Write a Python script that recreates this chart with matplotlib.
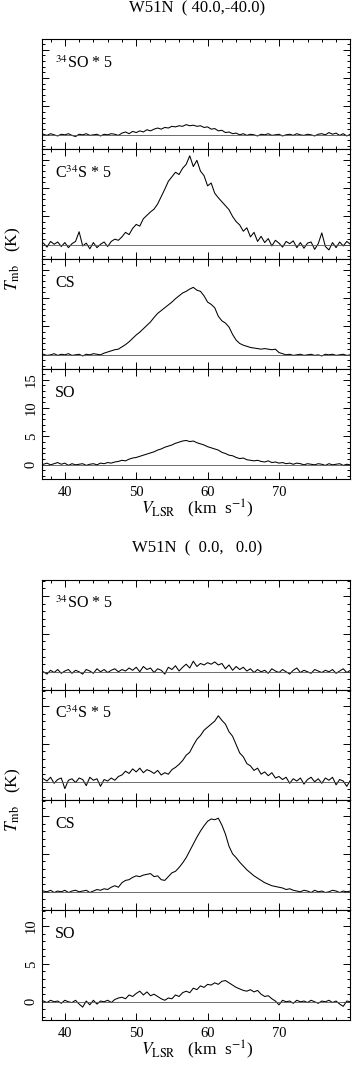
import numpy as np
import matplotlib
matplotlib.use('Agg')
import matplotlib.pyplot as plt
from matplotlib.ticker import MultipleLocator

plt.rcParams['font.family'] = ['Liberation Serif', 'DejaVu Serif']
plt.rcParams['mathtext.fontset'] = 'stix'

# channel velocities (km/s), 0.5 km/s steps
vel = np.arange(37.0, 80.01, 0.5)

# ---- W51N ( 40.0,-40.0) ----
so34_a = [0.1, -0.1, 0.2, 0.0, -0.2, 0.1, 0.0, 0.2, -0.1, -0.3,
          0.1, 0.0, 0.2, -0.1, 0.0, 0.1, -0.2, 0.1, 0.0, 0.2,
          0.1, -0.1, 0.3, 0.5, 0.2, 0.6, 0.4, 0.7, 0.5, 0.9,
          0.7, 1.0, 1.2, 1.0, 1.3, 1.2, 1.5, 1.4, 1.6, 1.5,
          1.8, 1.6, 1.7, 1.5, 1.6, 1.3, 1.4, 1.0, 1.1, 0.7,
          0.8, 0.4, 0.5, 0.2, 0.3, 0.0, 0.2, -0.1, 0.1, 0.0,
          -0.2, 0.1, 0.0, 0.2, -0.1, 0.0, 0.1, -0.2, 0.0, 0.1,
          -0.1, 0.2, 0.0, -0.1, 0.1, 0.0, -0.2, 0.1, 0.2, 0.0,
          0.4, 0.1, 0.3, -0.1, 0.2, -0.2, 0.1]
c34s_a = [0.3, -0.4, 0.6, 0.1, 0.5, -0.3, 0.4, -0.5, 0.2, 0.6,
          2.3, -0.2, 0.3, -0.7, 0.4, -0.5, 0.1, 0.5, -0.3, 0.6,
          1.0, 0.8, 1.4, 2.2, 1.8, 2.9, 3.6, 3.3, 4.6, 5.2,
          5.8, 6.3, 7.2, 8.5, 9.8, 11.2, 12.0, 12.8, 12.4, 13.5,
          14.2, 15.7, 13.8, 14.9, 13.0, 12.2, 10.4, 10.9, 9.1, 8.3,
          7.6, 6.9, 6.2, 5.0, 4.1, 3.5, 2.4, 3.0, 1.4, 2.2,
          0.6, 1.5, 0.4, 1.1, -0.2, 0.8, 0.3, -0.4, 0.6, 0.2,
          0.7, -0.5, 0.4, -0.6, 0.3, 0.5, -0.8, 0.2, 2.1, -0.3,
          -0.9, 0.4, -0.5, 0.5, -0.2, 0.6, 0.1]
cs_a = [0.1, -0.1, 0.0, 0.2, -0.1, 0.1, 0.0, 0.2, -0.1, 0.0,
        0.1, -0.2, 0.1, 0.0, 0.2, 0.1, 0.0, 0.3, 0.5, 0.7,
        0.9, 1.0, 1.4, 1.8, 2.3, 2.9, 3.5, 4.0, 4.6, 5.2,
        5.8, 6.6, 7.3, 7.8, 8.3, 8.8, 9.3, 9.9, 10.4, 10.9,
        11.2, 11.6, 11.9, 11.4, 11.2, 10.4, 9.3, 8.9, 8.3, 6.8,
        6.0, 5.6, 4.9, 3.6, 2.6, 2.0, 1.7, 1.5, 1.3, 1.2,
        1.1, 1.0, 1.1, 1.0, 0.9, 1.0, 0.4, 0.2, 0.0, 0.1,
        -0.1, 0.0, 0.1, -0.1, 0.0, 0.1, -0.1, 0.0, -0.2, 0.1,
        0.0, 0.1, -0.1, 0.0, 0.1, -0.1, 0.0]
so_a = [0.1, 0.3, 0.0, 0.2, 0.4, 0.1, 0.3, -0.1, 0.2, 0.0,
        0.1, 0.2, -0.1, 0.1, 0.2, 0.0, 0.3, 0.2, 0.4, 0.3,
        0.5, 0.6, 0.8, 0.7, 1.0, 1.2, 1.3, 1.5, 1.7, 1.9,
        2.1, 2.3, 2.6, 2.8, 3.1, 3.3, 3.5, 3.8, 4.0, 4.2,
        4.3, 4.1, 4.2, 3.9, 3.7, 3.5, 3.2, 3.0, 2.8, 2.6,
        2.2, 2.0, 1.7, 1.6, 1.3, 1.1, 1.2, 0.9, 0.8, 0.7,
        0.8, 0.6, 0.5, 0.7, 0.4, 0.5, 0.3, 0.4, 0.2, 0.3,
        0.1, 0.3, 0.2, 0.0, 0.2, 0.1, 0.0, 0.2, 0.1, -0.1,
        0.2, 0.0, 0.1, 0.2, -0.1, 0.1, 0.0]

# ---- W51N ( 0.0, 0.0) ----
so34_b = [0.0, -0.3, 0.2, -0.1, 0.3, -0.2, 0.1, 0.3, -0.2, 0.2,
          0.0, -0.3, 0.3, 0.1, -0.2, 0.4, 0.0, 0.3, -0.1, 0.2,
          0.4, 0.0, 0.3, 0.1, 0.5, 0.2, 0.6, 0.0, 0.7, 0.3,
          0.5, -0.1, 0.4, 0.2, -0.3, 0.6, 0.3, 0.8, 0.1, 0.6,
          1.0, 0.5, 1.4, 0.7, 1.1, 0.9, 1.2, 1.0, 1.3, 0.9,
          1.1, 0.4, 0.9, 0.2, 0.7, 0.3, 0.6, 0.1, 0.4, -0.1,
          0.3, 0.0, 0.2, -0.2, 0.4, 0.1, -0.1, 0.3, 0.0, -0.3,
          0.2, 0.5, -0.1, 0.2, 0.0, -0.2, 0.3, 0.1, -0.1, 0.2,
          0.0, 0.3, -0.2, 0.1, 0.4, -0.1, 0.2]
c34s_b = [0.4, 0.1, 0.6, -0.2, 0.3, 0.5, -0.9, 0.2, 0.4, -0.1,
          0.5, 0.3, -0.5, 0.6, 0.2, 0.4, -0.6, 0.3, 0.1, 0.5,
          0.2, 0.7, 0.9, 1.4, 1.1, 1.7, 1.3, 1.8, 1.2, 1.6,
          1.4, 1.1, 1.5, 0.9, 1.2, 1.0, 1.6, 1.9, 2.3, 2.8,
          3.5, 3.9, 4.8, 5.6, 6.1, 6.8, 7.2, 7.6, 8.0, 8.7,
          8.1, 7.6, 6.6, 6.0, 4.9, 3.8, 3.3, 2.4, 2.1, 1.5,
          1.8, 1.0, 1.3, 0.8, 1.2, 0.5, 0.7, 0.3, 0.6, -0.2,
          0.4, 0.1, 0.5, -0.3, 0.3, 0.6, 0.0, 0.4, -0.2, 0.5,
          0.2, 0.6, -0.4, 0.3, 0.1, -0.6, 0.2]
cs_b = [0.1, 0.0, 0.2, -0.1, 0.1, 0.0, 0.2, -0.1, 0.1, 0.2,
        0.0, 0.1, 0.2, -0.1, 0.1, 0.3, 0.2, 0.4, 0.3, 0.6,
        0.8, 0.6, 1.2, 1.5, 1.6, 1.9, 2.1, 2.0, 2.2, 2.3,
        2.4, 2.0, 2.1, 1.6, 1.5, 2.0, 2.5, 2.7, 3.2, 3.8,
        4.5, 5.4, 6.3, 7.2, 8.0, 8.7, 9.3, 9.6, 9.5, 9.7,
        8.8, 7.6, 6.0, 5.0, 4.5, 3.9, 3.4, 2.9, 2.5, 2.1,
        1.8, 1.5, 1.2, 1.0, 0.8, 0.7, 0.6, 0.5, 0.3, 0.4,
        0.2, 0.1, 0.0, 0.2, 0.1, -0.1, 0.2, 0.0, 0.1, -0.1,
        0.0, 0.2, 0.1, -0.1, 0.1, 0.0, 0.1]
so_b = [0.1, -0.1, 0.2, 0.0, 0.1, -0.2, 0.2, 0.0, -0.1, 0.2,
        -0.3, -0.7, 0.1, -0.4, 0.2, -0.3, 0.1, 0.0, 0.2, -0.1,
        0.3, 0.5, 0.6, 0.4, 0.9, 0.7, 1.1, 1.4, 0.9, 1.3,
        0.8, 1.0, 0.7, 0.4, 0.2, 0.5, 0.4, 0.9, 0.7, 1.2,
        1.4, 1.2, 1.8, 1.6, 2.1, 1.9, 2.3, 2.2, 2.5, 2.3,
        2.7, 2.8, 2.5, 2.2, 1.9, 1.7, 1.5, 1.4, 1.6, 1.3,
        1.5, 1.0, 0.7, 0.8, 0.4, 0.1, -0.4, 0.2, 0.0, 0.1,
        -0.2, 0.2, 0.0, 0.1, -0.1, 0.2, 0.0, -0.2, 0.1, 0.0,
        0.2, -0.1, 0.1, -0.3, -0.6, 0.1, 0.0]

line_labels = [r'$^{34}$SO * 5', r'C$^{34}$S * 5', 'CS', 'SO']
titles = ['W51N  ( 40.0,-40.0)', 'W51N  (  0.0,   0.0)']
spectra = [[so34_a, c34s_a, cs_a, so_a], [so34_b, c34s_b, cs_b, so_b]]
ylims = [(-2.5, 16.9), (-2.4, 12.1)]

W, H = 352, 1071
fig = plt.figure(figsize=(W / 100, H / 100), dpi=100)

def fx(px):
    return px / W

def fy(px):
    return 1 - px / H

left, right = 42, 350
panel_h = 110
group_top = [39, 580]
title_y = [8, 548]
xlab_y = [509, 1050]

for g in range(2):
    for i in range(4):
        top = group_top[g] + i * panel_h
        ax = fig.add_axes([fx(left), fy(top + panel_h), fx(right - left), panel_h / H])
        ax.plot(vel, spectra[g][i], color='black', lw=0.75)
        ax.axhline(0, color='#555555', lw=0.6)
        ax.set_xlim(36.8, 79.95)
        ax.set_ylim(*ylims[g])
        ax.xaxis.set_major_locator(MultipleLocator(10))
        ax.xaxis.set_minor_locator(MultipleLocator(2))
        ax.yaxis.set_major_locator(MultipleLocator(5))
        ax.yaxis.set_minor_locator(MultipleLocator(1))
        ax.tick_params(which='both', direction='in', top=True, right=True, width=0.7)
        ax.tick_params(which='major', length=5)
        ax.tick_params(which='minor', length=2.5)
        for s in ax.spines.values():
            s.set_linewidth(0.8)
        ax.text(0.042, 0.78, line_labels[i], transform=ax.transAxes,
                fontsize=11.5, va='center', ha='left')
        if i < 3:
            ax.set_xticklabels([])
            ax.set_yticklabels([])
        else:
            ax.tick_params(axis='x', labelsize=10.5, pad=5)
            ax.tick_params(axis='y', labelsize=10.5, pad=3)
            for t in ax.get_yticklabels():
                t.set_rotation(90)
                t.set_va('center')
    fig.text(fx(197), fy(title_y[g]), titles[g], ha='center', va='center', fontsize=12)
    fig.text(fx(197), fy(xlab_y[g]), r'$V_{\rm LSR}$   (km  s$^{-1}$)',
             ha='center', va='center', fontsize=12.5)
    mid = group_top[g] + 2 * panel_h
    fig.text(fx(13), fy(mid), r'$T_{\rm mb}$   (K)', rotation=90,
             ha='center', va='center', fontsize=12.5)

fig.savefig('out.png', dpi=100)
